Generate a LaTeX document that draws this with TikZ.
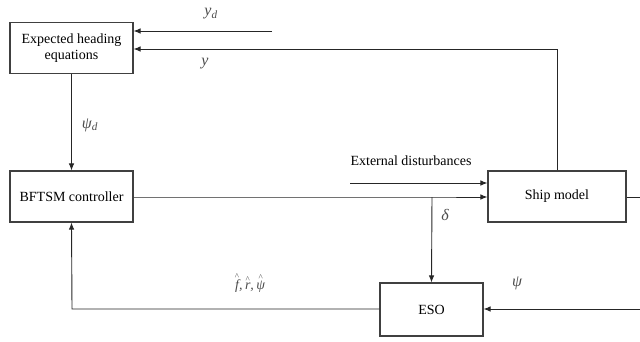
\documentclass[tikz,border=0pt]{standalone}
\usepackage{fontspec}
\setmainfont{Liberation Serif}
\usetikzlibrary{arrows.meta}
\newcommand\myhat[1]{\leavevmode\vbox{\offinterlineskip\halign{\hfil##\hfil\cr{\fontsize{9}{9}\selectfont\upshape\^{}}\cr\noalign{\kern0pt}#1\cr}}}
\begin{document}
\begin{tikzpicture}[x=1pt,y=-1pt,
  blk/.style={draw=black!75, line width=1.1pt, minimum width=#1, inner sep=0pt, font=\fontsize{14}{16}\selectfont, align=center},
  blk/.default=123pt,
  ln/.style={draw=black!85, line width=0.9pt},
  arr/.style={ln, -{Latex[length=7pt,width=5.5pt]}},
  lab/.style={text=black!70, font=\fontsize{16}{18}\selectfont\itshape}]
\useasboundingbox (0,0) rectangle (640,341);
% blocks
\node[blk=123pt, minimum height=51pt] (exp) at (71.5,48) {Expected heading\\equations};
\node[blk=123pt, minimum height=51pt] (ctl) at (71.5,196.5) {BFTSM controller};
\node[blk=138pt, minimum height=51pt] (ship) at (557,196.5) {Ship model};
\node[blk=103pt, minimum height=53pt] (eso) at (431.5,309.5) {ESO};
% coordinates
\coordinate (yd0) at (272,31);
\coordinate (yturn) at (557,49);
\coordinate (dist0) at (350,183);
\coordinate (split) at (432,197);
\coordinate (outR) at (640,197);
\coordinate (psiR) at (640,309);
\coordinate (fbturn) at (72,309);
% connectors
\draw[arr] (yd0) -- (yd0 -| exp.east);
\draw[arr] (ship.north) -- (yturn) -- (yturn -| exp.east);
\draw[arr] (exp.south) -- (ctl.north);
\draw[arr] (ctl.east |- split) -- (split) -- (split -| ship.west);
\draw[arr] (dist0) -- (dist0 -| ship.west);
\draw[arr] (split) -- (eso.north);
\draw[ln] (ship.east |- outR) -- (outR);
\draw[arr] (psiR) -- (psiR -| eso.east);
\draw[arr] (eso.west |- fbturn) -- (fbturn) -- (ctl.south);
% labels
\node[lab] (lyd) at (211,14) {y\textsubscript{d}};
\node[lab] (ly) at (205,64) {y};
\node[lab] (lpsid) at (90,125) {ψ\textsubscript{d}};
\node[font=\fontsize{14}{16}\selectfont] (ldist) at (411,161) {External disturbances};
\node[lab] (ldelta) at (445,215) {δ};
\node[lab, font=\fontsize{14}{16}\selectfont\itshape] (lhat) at (250,283) {\myhat{f},\,\myhat{r},\,\myhat{ψ}};
\node[lab] (lpsi) at (517,283) {ψ};
\end{tikzpicture}
\end{document}
